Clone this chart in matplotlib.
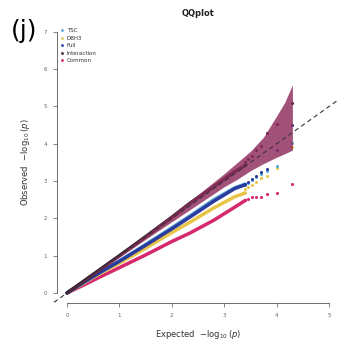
import matplotlib
matplotlib.use("Agg")
import matplotlib.pyplot as plt
import numpy as np

# ---- data ----
series_names = ["TSC", "DBH3", "Full", "Interaction", "Common"]
series_colors = ["#5aa9d6", "#e8c547", "#2b3c9e", "#3a2230", "#d6286e"]

# bulk of each QQ curve (expected, observed)
bulk_x = [0.0, 0.3, 0.63, 1.0, 1.5, 2.0, 2.35, 2.8, 3.2, 3.4]
bulk_tsc = [0.0, 0.27, 0.55, 0.86, 1.30, 1.75, 2.07, 2.50, 2.82, 2.92]
bulk_dbh3 = [0.0, 0.25, 0.52, 0.80, 1.20, 1.62, 1.90, 2.28, 2.58, 2.68]
bulk_full = [0.0, 0.27, 0.55, 0.85, 1.28, 1.72, 2.04, 2.46, 2.80, 2.90]
bulk_inter = [0.0, 0.30, 0.63, 1.00, 1.51, 2.03, 2.41, 2.85, 3.25, 3.42]
bulk_common = [0.0, 0.20, 0.43, 0.68, 1.02, 1.38, 1.61, 1.95, 2.30, 2.48]

# tail points (largest observed values)
tail_x = [4.30, 4.00, 3.82, 3.70, 3.60, 3.52, 3.46, 3.40]
tail_tsc = [4.02, 3.40, 3.26, 3.20, 3.12, 3.04, 2.96, 2.90]
tail_dbh3 = [3.90, 3.36, 3.14, 3.08, 2.98, 2.90, 2.84, 2.78]
tail_full = [4.50, 3.83, 3.32, 3.24, 3.14, 3.05, 2.98, 2.92]
tail_inter = [5.09, 4.53, 4.29, 3.95, 3.82, 3.68, 3.58, 3.50]
tail_common = [2.93, 2.69, 2.65, 2.58, 2.57, 2.56, 2.52, 2.48]

# confidence band
band_x = [0.0, 0.5, 1.0, 1.5, 2.0, 2.5, 3.0, 3.25, 3.5, 3.75, 4.0, 4.15, 4.3]
band_upper = [0.02, 0.52, 1.03, 1.56, 2.09, 2.64, 3.20, 3.50, 3.80, 4.18, 4.75, 5.10, 5.58]
band_lower = [0.0, 0.48, 0.96, 1.44, 1.91, 2.38, 2.85, 3.05, 3.28, 3.47, 3.64, 3.73, 3.83]

x_ticks = [0, 1, 2, 3, 4, 5]
y_ticks = [0, 1, 2, 3, 4, 5, 6, 7]

bulks = [bulk_tsc, bulk_dbh3, bulk_full, bulk_inter, bulk_common]
tails = [tail_tsc, tail_dbh3, tail_full, tail_inter, tail_common]

fig = plt.figure(figsize=(3.37, 3.43), dpi=100)
ax = fig.add_axes([0.168, 0.1155, 0.8396, 0.822])
ax.set_xlim(-0.2, 5.2)
ax.set_ylim(-0.28, 7.28)

draw_order = [4, 1, 0, 2, 3]
for i in draw_order:
    ax.plot(bulk_x, bulks[i], color=series_colors[i], lw=2.5, solid_capstyle="round", zorder=2)
    ax.scatter(tail_x, tails[i], s=5, color=series_colors[i], zorder=2, linewidths=0)

ax.fill_between(band_x, band_lower, band_upper, color="#8e2c5a", alpha=0.82, lw=0, zorder=3)

ax.plot([-0.25, 6], [-0.25, 6], ls=(0, (4, 3)), color="#3a3040", lw=0.8, zorder=4, clip_on=False)

for s in ["top", "right"]:
    ax.spines[s].set_visible(False)
ax.spines["left"].set_bounds(0, 7)
ax.spines["bottom"].set_bounds(0, 5)
for s in ["left", "bottom"]:
    ax.spines[s].set_color("#555555")
    ax.spines[s].set_linewidth(0.6)
ax.set_xticks(x_ticks)
ax.set_yticks(y_ticks)
ax.tick_params(length=3, width=0.5, color="#555555", labelsize=4, labelcolor="#666666", pad=4)
ax.set_xlabel("Expected  $-\\log_{10}(p)$", fontsize=6, color="#333333", labelpad=7)
ax.set_ylabel("Observed  $-\\log_{10}(p)$", fontsize=6, color="#333333", labelpad=8)
ax.set_title("QQplot", fontsize=6, fontweight="bold", color="#222222", pad=4)

# legend
handles = [plt.Line2D([], [], ls="", marker="o", ms=2, color=c, markeredgewidth=0) for c in series_colors]
ax.legend(handles, series_names, loc="upper left", bbox_to_anchor=(0.0, 0.99), frameon=False,
          fontsize=4, handlelength=0.6, handletextpad=0.5, labelspacing=0.45, borderaxespad=0.3,
          labelcolor="#333333")

fig.text(0.072, 0.91, "(j)", fontsize=18, ha="center", va="center", color="black")

fig.savefig("out.png", dpi=100)
